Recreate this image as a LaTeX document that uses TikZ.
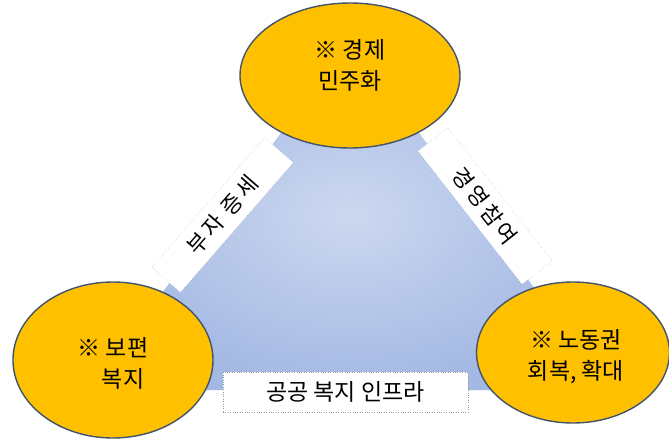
\documentclass[tikz,border=0pt]{standalone}
\usepackage{fontspec}
\setmainfont{Noto Sans CJK KR}
\usetikzlibrary{shapes.geometric}
\definecolor{gold}{HTML}{FFC000}
\definecolor{rim}{HTML}{42536B}
\definecolor{triin}{HTML}{CDD8F0}
\definecolor{triout}{HTML}{A3B8E3}
\tikzset{
  ell/.style={ellipse, draw=rim, line width=1.4pt, fill=gold, inner sep=0pt},
  elltext/.style={align=center, inner sep=0pt, font=\fontsize{23}{31}\selectfont},
  lbl/.style={rectangle, draw=gray!80, dotted, fill=white, inner sep=0pt,
    minimum height=38pt, font=\fontsize{22}{25}\selectfont}
}
\newcommand{\lsp}{\hspace{3pt}}
\begin{document}
\begin{tikzpicture}[x=1pt,y=-1pt]
\useasboundingbox (0,0) rectangle (669,439);
\coordinate (apex) at (350,40);
\coordinate (bl) at (90,390);
\coordinate (br) at (610,390);
\shade[inner color=triin, outer color=triout] (apex) -- (bl) -- (br) -- cycle;
\node[lbl, rotate=49, minimum width=172pt] (rich) at (222.5,215) {부\lsp 자\lsp\ 증\lsp 세};
\node[lbl, rotate=-52, minimum width=169pt] (mgmt) at (485,206) {경\lsp 영\lsp 참\lsp 여};
\node[lbl, minimum width=245pt, minimum height=40pt, font=\fontsize{23}{27}\selectfont] (infra) at (345.5,392) {공공 복지 인프라};
\node[ell, minimum width=220pt, minimum height=145pt] (top) at (350,75.5) {};
\node[elltext] (toptext) at (350,65) {※ 경제\\민주화};
\node[ell, minimum width=200pt, minimum height=156pt] (left) at (113,360) {};
\node[elltext] (lefttext) at (113,363) {※ 보편\\\hspace*{20pt}복지};
\node[ell, minimum width=193pt, minimum height=141pt] (right) at (573,352.5) {};
\node[elltext] (righttext) at (576,357) {※ 노동권\\회복, 확대};
\end{tikzpicture}
\end{document}
